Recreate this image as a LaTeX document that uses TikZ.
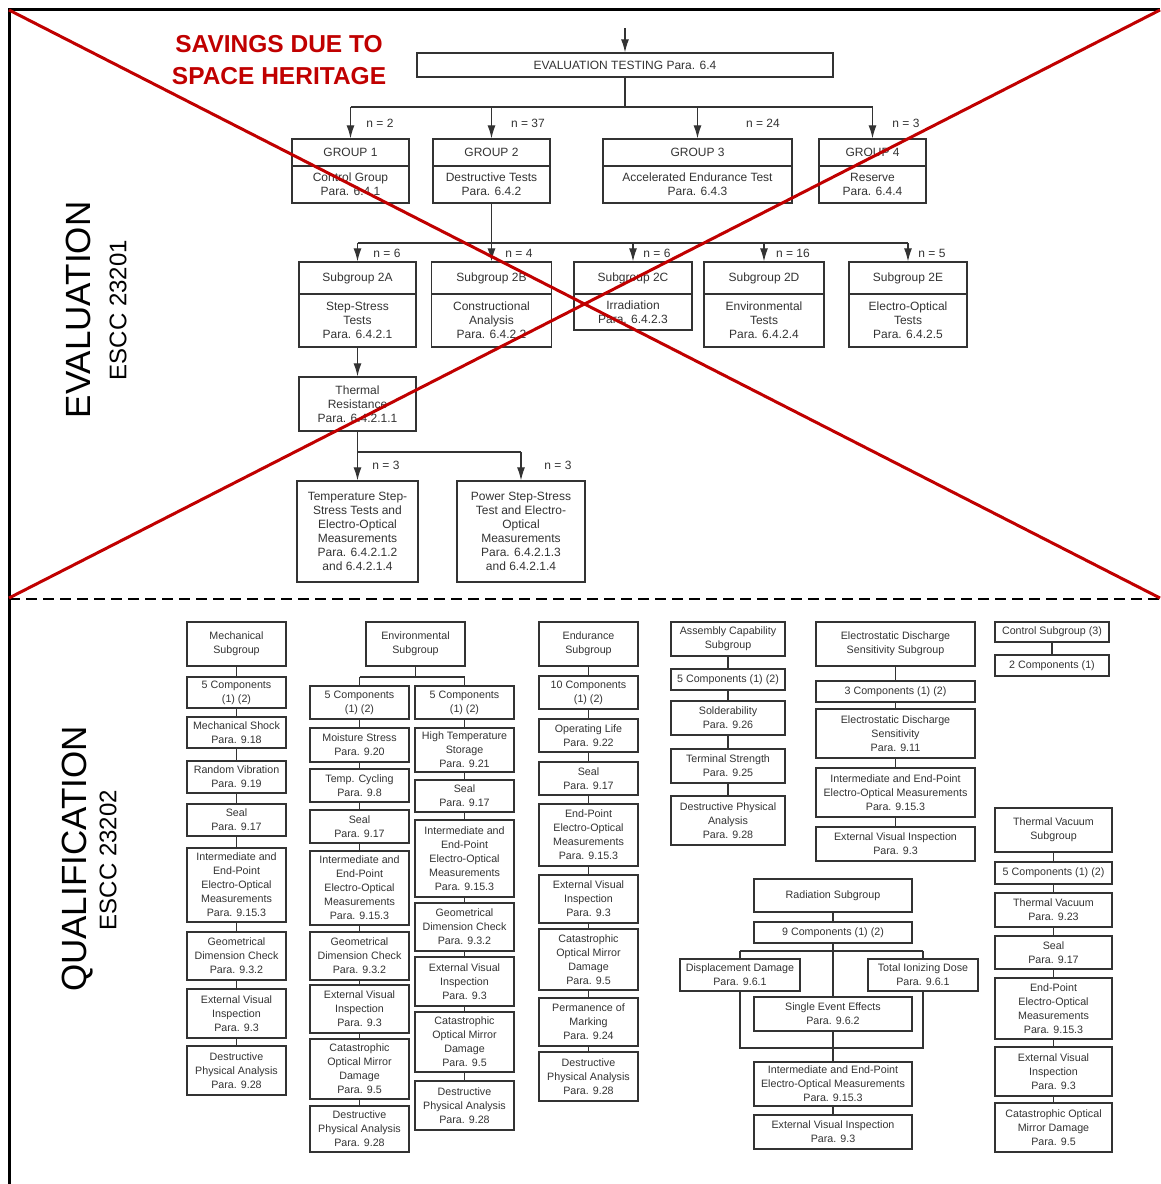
\documentclass[tikz,border=0pt]{standalone}
\usepackage{fontspec}
\setmainfont{Liberation Sans}
\usetikzlibrary{arrows.meta,positioning}

\definecolor{savred}{HTML}{C00000}
\definecolor{boxgray}{HTML}{333333}

\tikzset{
  ebox/.style={draw=boxgray, line width=1.3pt, inner sep=0pt, align=center, text=boxgray,
    font=\fontsize{12}{14}\selectfont, minimum width=#1},
  qbox/.style={draw=boxgray, line width=1.2pt, inner sep=0pt, align=center, text=boxgray,
    font=\fontsize{10.7}{14}\selectfont, minimum width=#1},
  nlab/.style={font=\fontsize{12}{14}\selectfont, text=boxgray},
  link/.style={draw=boxgray, line width=1.2pt},
  arr/.style={link, -{Latex[length=13pt,width=8pt]}},
  xline/.style={draw=savred, line width=3pt},
}

\begin{document}
\begin{tikzpicture}[x=1pt,y=-1pt]
  \useasboundingbox (0,0) rectangle (1160,1184);

  % frame and separator
  \draw [line width=3pt] (1160,9) -- (9,9) -- (9,1184);
  \draw [line width=2.5pt, dash pattern=on 11pt off 6pt] (9,599) -- (1160,599);

  % side titles
  \node [rotate=90, font=\fontsize{35}{40}\selectfont] (evtitle) at (78,310) {EVALUATION};
  \node [rotate=90, font=\fontsize{24}{28}\selectfont] (evcode) at (118,310) {ESCC 23201};
  \node [rotate=90, font=\fontsize{35}{40}\selectfont] (qutitle) at (78,859) {QUALIFICATION};
  \node [rotate=90, font=\fontsize{24}{28}\selectfont] (qucode) at (108,860) {ESCC 23202};

  %%%%%%%%%%%%%%%% evaluation
  \coordinate (top) at (625,28);
  \node [ebox=416, minimum height=24] (evt) at (625,65) {EVALUATION TESTING Para. 6.4};
  \draw [arr] (top) -- (evt);

  \node [ebox=117, minimum height=27] (g1h) at (350.5,152.5) {GROUP 1};
  \node [ebox=117, minimum height=37] (g1b) at (350.5,184.5) {Control Group\\Para. 6.4.1};
  \node [ebox=117, minimum height=27] (g2h) at (491.5,152.5) {GROUP 2};
  \node [ebox=117, minimum height=37] (g2b) at (491.5,184.5) {Destructive Tests\\Para. 6.4.2};
  \node [ebox=189, minimum height=27] (g3h) at (697.5,152.5) {GROUP 3};
  \node [ebox=189, minimum height=37] (g3b) at (697.5,184.5) {Accelerated Endurance Test\\Para. 6.4.3};
  \node [ebox=107, minimum height=27] (g4h) at (872.5,152.5) {GROUP 4};
  \node [ebox=107, minimum height=37] (g4b) at (872.5,184.5) {Reserve\\Para. 6.4.4};

  \coordinate (gj) at (625,107);
  \draw [link] (evt) -- (gj);
  \draw [link] (g1h.north |- gj) -- (g4h.north |- gj);
  \foreach \g in {g1h,g2h,g3h,g4h}
    \draw [arr] (\g.north |- gj) -- (\g.north);

  \node [nlab] (n1) at (380,123) {n = 2};
  \node [nlab] (n2) at (528,123) {n = 37};
  \node [nlab] (n3) at (763,123) {n = 24};
  \node [nlab] (n4) at (906,123) {n = 3};

  % subgroups of group 2
  \node [ebox=117, minimum height=32] (s2ah) at (357.5,278) {Subgroup 2A};
  \node [ebox=117, minimum height=53] (s2ab) at (357.5,320.5) {Step-Stress\\Tests\\Para. 6.4.2.1};
  \node [ebox=120, minimum height=32] (s2bh) at (491.5,278) {Subgroup 2B};
  \node [ebox=120, minimum height=53] (s2bb) at (491.5,320.5) {Constructional\\Analysis\\Para. 6.4.2.2};
  \node [ebox=118, minimum height=32] (s2ch) at (633,278) {Subgroup 2C};
  \node [ebox=118, minimum height=36] (s2cb) at (633,312) {Irradiation\\Para. 6.4.2.3};
  \node [ebox=120, minimum height=32] (s2dh) at (764,278) {Subgroup 2D};
  \node [ebox=120, minimum height=53] (s2db) at (764,320.5) {Environmental\\Tests\\Para. 6.4.2.4};
  \node [ebox=118, minimum height=32] (s2eh) at (908,278) {Subgroup 2E};
  \node [ebox=118, minimum height=53] (s2eb) at (908,320.5) {Electro-Optical\\Tests\\Para. 6.4.2.5};

  \coordinate (sj) at (491.5,243);
  \draw [link] (g2b) -- (sj);
  \draw [link] (s2ah.north |- sj) -- (s2eh.north |- sj);
  \foreach \s in {s2ah,s2bh,s2ch,s2dh,s2eh}
    \draw [arr] (\s.north |- sj) -- (\s.north);

  \node [nlab] (n5) at (387,253) {n = 6};
  \node [nlab] (n6) at (519,253) {n = 4};
  \node [nlab] (n7) at (657,253) {n = 6};
  \node [nlab] (n8) at (793,253) {n = 16};
  \node [nlab] (n9) at (932,253) {n = 5};

  % step-stress branch
  \node [ebox=117, minimum height=54] (thr) at (357.5,404) {Thermal\\Resistance\\Para. 6.4.2.1.1};
  \draw [arr] (s2ab) -- (thr);
  \node [ebox=121, minimum height=101] (tmp) at (357.5,531.5)
    {Temperature Step-\\Stress Tests and\\Electro-Optical\\Measurements\\Para. 6.4.2.1.2\\and 6.4.2.1.4};
  \node [ebox=128, minimum height=101] (pwr) at (521,531.5)
    {Power Step-Stress\\Test and Electro-\\Optical\\Measurements\\Para. 6.4.2.1.3\\and 6.4.2.1.4};
  \coordinate (tj) at (357.5,452);
  \draw [link] (thr) -- (tj) -- (pwr.north |- tj);
  \draw [arr] (tj) -- (tmp);
  \draw [arr] (pwr.north |- tj) -- (pwr);
  \node [nlab] (n10) at (386,465) {n = 3};
  \node [nlab] (n11) at (558,465) {n = 3};

  %%%%%%%%%%%%%%%% qualification
  % mechanical
  \node [qbox=99, minimum height=44] (m0) at (236.5,644) {Mechanical\\Subgroup};
  \node [qbox=99, minimum height=31] (m1) at (236.5,692.5) {5 Components\\(1) (2)};
  \node [qbox=99, minimum height=31] (m2) at (236.5,732.5) {Mechanical Shock\\Para. 9.18};
  \node [qbox=99, minimum height=32] (m3) at (236.5,777) {Random Vibration\\Para. 9.19};
  \node [qbox=99, minimum height=32] (m4) at (236.5,820) {Seal\\Para. 9.17};
  \node [qbox=99, minimum height=74] (m5) at (236.5,885) {Intermediate and\\End-Point\\Electro-Optical\\Measurements\\Para. 9.15.3};
  \node [qbox=99, minimum height=48] (m6) at (236.5,956) {Geometrical\\Dimension Check\\Para. 9.3.2};
  \node [qbox=99, minimum height=49] (m7) at (236.5,1013.5) {External Visual\\Inspection\\Para. 9.3};
  \node [qbox=99, minimum height=49] (m8) at (236.5,1070.5) {Destructive\\Physical Analysis\\Para. 9.28};

  % environmental
  \node [qbox=99, minimum height=44] (e0) at (415.5,644) {Environmental\\Subgroup};
  \node [qbox=99, minimum height=33] (el1) at (359.5,702.5) {5 Components\\(1) (2)};
  \node [qbox=99, minimum height=34] (el2) at (359.5,745) {Moisture Stress\\Para. 9.20};
  \node [qbox=99, minimum height=33] (el3) at (359.5,785.5) {Temp. Cycling\\Para. 9.8};
  \node [qbox=99, minimum height=33] (el4) at (359.5,826.5) {Seal\\Para. 9.17};
  \node [qbox=99, minimum height=74] (el5) at (359.5,888) {Intermediate and\\End-Point\\Electro-Optical\\Measurements\\Para. 9.15.3};
  \node [qbox=99, minimum height=48] (el6) at (359.5,956) {Geometrical\\Dimension Check\\Para. 9.3.2};
  \node [qbox=99, minimum height=48] (el7) at (359.5,1009) {External Visual\\Inspection\\Para. 9.3};
  \node [qbox=99, minimum height=60] (el8) at (359.5,1069) {Catastrophic\\Optical Mirror\\Damage\\Para. 9.5};
  \node [qbox=99, minimum height=46] (el9) at (359.5,1129) {Destructive\\Physical Analysis\\Para. 9.28};

  \node [qbox=99, minimum height=33] (er1) at (464.5,702.5) {5 Components\\(1) (2)};
  \node [qbox=99, minimum height=44] (er2) at (464.5,750) {High Temperature\\Storage\\Para. 9.21};
  \node [qbox=99, minimum height=32] (er3) at (464.5,796) {Seal\\Para. 9.17};
  \node [qbox=99, minimum height=77] (er4) at (464.5,858.5) {Intermediate and\\End-Point\\Electro-Optical\\Measurements\\Para. 9.15.3};
  \node [qbox=99, minimum height=48] (er5) at (464.5,927) {Geometrical\\Dimension Check\\Para. 9.3.2};
  \node [qbox=99, minimum height=49] (er6) at (464.5,981.5) {External Visual\\Inspection\\Para. 9.3};
  \node [qbox=99, minimum height=60] (er7) at (464.5,1042) {Catastrophic\\Optical Mirror\\Damage\\Para. 9.5};
  \node [qbox=99, minimum height=49] (er8) at (464.5,1105.5) {Destructive\\Physical Analysis\\Para. 9.28};

  \coordinate (ej) at (415.5,677);
  \draw [link] (e0) -- (ej);
  \draw [link] (el1.north |- ej) -- (er1.north |- ej);
  \draw [link] (el1.north |- ej) -- (el1);
  \draw [link] (er1.north |- ej) -- (er1);

  % endurance
  \node [qbox=99, minimum height=44] (d0) at (588.5,644) {Endurance\\Subgroup};
  \node [qbox=99, minimum height=33] (d1) at (588.5,692.5) {10 Components\\(1) (2)};
  \node [qbox=99, minimum height=33] (d2) at (588.5,735.5) {Operating Life\\Para. 9.22};
  \node [qbox=99, minimum height=33] (d3) at (588.5,778.5) {Seal\\Para. 9.17};
  \node [qbox=99, minimum height=62] (d4) at (588.5,835) {End-Point\\Electro-Optical\\Measurements\\Para. 9.15.3};
  \node [qbox=99, minimum height=48] (d5) at (588.5,899) {External Visual\\Inspection\\Para. 9.3};
  \node [qbox=99, minimum height=61] (d6) at (588.5,959.5) {Catastrophic\\Optical Mirror\\Damage\\Para. 9.5};
  \node [qbox=99, minimum height=48] (d7) at (588.5,1022) {Permanence of\\Marking\\Para. 9.24};
  \node [qbox=99, minimum height=49] (d8) at (588.5,1076.5) {Destructive\\Physical Analysis\\Para. 9.28};

  % assembly capability
  \node [qbox=114, minimum height=34] (a0) at (728,639) {Assembly Capability\\Subgroup};
  \node [qbox=114, minimum height=21] (a1) at (728,679.5) {5 Components (1) (2)};
  \node [qbox=114, minimum height=34] (a2) at (728,718) {Solderability\\Para. 9.26};
  \node [qbox=114, minimum height=34] (a3) at (728,766) {Terminal Strength\\Para. 9.25};
  \node [qbox=114, minimum height=49] (a4) at (728,820.5) {Destructive Physical\\Analysis\\Para. 9.28};

  % electrostatic discharge
  \node [qbox=159, minimum height=44] (s0) at (895.5,644) {Electrostatic Discharge\\Sensitivity Subgroup};
  \node [qbox=159, minimum height=21] (s1) at (895.5,691.5) {3 Components (1) (2)};
  \node [qbox=159, minimum height=49] (s2) at (895.5,733.5) {Electrostatic Discharge\\Sensitivity\\Para. 9.11};
  \node [qbox=159, minimum height=49] (s3) at (895.5,792.5) {Intermediate and End-Point\\Electro-Optical Measurements\\Para. 9.15.3};
  \node [qbox=159, minimum height=34] (s4) at (895.5,844) {External Visual Inspection\\Para. 9.3};

  % control
  \node [qbox=114, minimum height=20] (c0) at (1052,632) {Control Subgroup (3)};
  \node [qbox=114, minimum height=21] (c1) at (1052,665.5) {2 Components (1)};

  % thermal vacuum
  \node [qbox=117, minimum height=44] (t0) at (1053.5,830) {Thermal Vacuum\\Subgroup};
  \node [qbox=117, minimum height=22] (t1) at (1053.5,873) {5 Components (1) (2)};
  \node [qbox=117, minimum height=34] (t2) at (1053.5,910) {Thermal Vacuum\\Para. 9.23};
  \node [qbox=117, minimum height=33] (t3) at (1053.5,952.5) {Seal\\Para. 9.17};
  \node [qbox=117, minimum height=61] (t4) at (1053.5,1008.5) {End-Point\\Electro-Optical\\Measurements\\Para. 9.15.3};
  \node [qbox=117, minimum height=49] (t5) at (1053.5,1071.5) {External Visual\\Inspection\\Para. 9.3};
  \node [qbox=117, minimum height=49] (t6) at (1053.5,1127.5) {Catastrophic Optical\\Mirror Damage\\Para. 9.5};

  \foreach \a/\b in {m0/m1,m1/m2,m2/m3,m3/m4,m4/m5,m5/m6,m6/m7,m7/m8,
                     el1/el2,el2/el3,el3/el4,el4/el5,el5/el6,el6/el7,el7/el8,el8/el9,
                     er1/er2,er2/er3,er3/er4,er4/er5,er5/er6,er6/er7,er7/er8,
                     d0/d1,d1/d2,d2/d3,d3/d4,d4/d5,d5/d6,d6/d7,d7/d8,
                     a0/a1,a1/a2,a2/a3,a3/a4,
                     s0/s1,s1/s2,s2/s3,s3/s4,
                     c0/c1,
                     t0/t1,t1/t2,t2/t3,t3/t4,t4/t5,t5/t6}
    \draw [link] (\a) -- (\b);

  % radiation
  \node [qbox=158, minimum height=33] (r0) at (833,895.5) {Radiation Subgroup};
  \node [qbox=158, minimum height=21] (r1) at (833,932.5) {9 Components (1) (2)};
  \node [qbox=120, minimum height=32] (rd) at (740,975) {Displacement Damage\\Para. 9.6.1};
  \node [qbox=110, minimum height=32] (rt) at (923,975) {Total Ionizing Dose\\Para. 9.6.1};
  \node [qbox=158, minimum height=34] (rs) at (833,1014) {Single Event Effects\\Para. 9.6.2};
  \node [qbox=158, minimum height=44] (ri) at (833,1084) {Intermediate and End-Point\\Electro-Optical Measurements\\Para. 9.15.3};
  \node [qbox=158, minimum height=34] (re) at (833,1132) {External Visual Inspection\\Para. 9.3};

  \coordinate (rj) at (833,951);
  \coordinate (rk) at (833,1048);
  \draw [link] (r0) -- (r1);
  \draw [link] (r1) -- (rj) -- (rs);
  \draw [link] (rd.north |- rj) -- (rt.north |- rj);
  \draw [link] (rd.north |- rj) -- (rd);
  \draw [link] (rt.north |- rj) -- (rt);
  \draw [link] (rd) -- (rd.south |- rk) -- (rt.south |- rk) -- (rt);
  \draw [link] (rs) -- (ri);
  \draw [link] (ri) -- (re);

  %%%%%%%%%%%%%%%% heritage cross
  \draw [xline] (9,10) -- (1160,598);
  \draw [xline] (1160,10) -- (9,598);
  \node [align=center, text=savred, font=\fontsize{24.5}{32}\selectfont\bfseries] (sav) at (279,60)
    {SAVINGS DUE TO\\SPACE HERITAGE};
\end{tikzpicture}
\end{document}
